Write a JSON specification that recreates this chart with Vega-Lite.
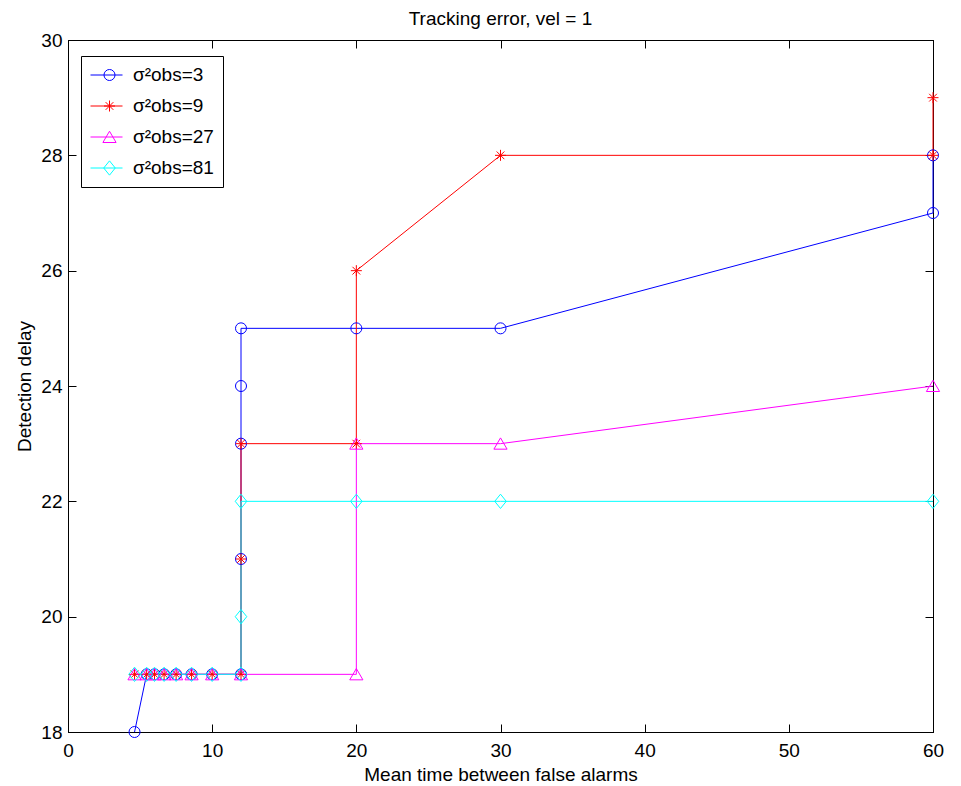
{
  "$schema": "https://vega.github.io/schema/vega-lite/v6.json",
  "width": 865,
  "height": 692,
  "autosize": {"type": "none"},
  "padding": {"left": 68, "top": 40, "right": 28, "bottom": 54},
  "title": {"text": "Tracking error, vel = 1", "fontSize": 19, "fontWeight": "normal", "font": "Liberation Sans", "color": "black", "baseline": "alphabetic", "offset": 14, "dy": 27, "frame": "group", "anchor": "middle"},
  "config": {
    "view": {"stroke": "black", "strokeWidth": 1},
    "font": "Liberation Sans",
    "axis": {"grid": false, "domainColor": "black", "tickColor": "black", "labelColor": "black", "titleColor": "black", "labelFont": "Liberation Sans", "titleFont": "Liberation Sans", "labelFontSize": 19, "titleFontSize": 19, "titleFontWeight": "normal", "tickSize": -8, "labelFlush": false, "labelOverlap": false}
  },
  "data": {"values": [
    {"s": "σ²obs=3", "i": 1, "x": 4.615, "y": 18},
    {"s": "σ²obs=3", "i": 2, "x": 5.455, "y": 19},
    {"s": "σ²obs=3", "i": 3, "x": 6, "y": 19},
    {"s": "σ²obs=3", "i": 4, "x": 6.667, "y": 19},
    {"s": "σ²obs=3", "i": 5, "x": 7.5, "y": 19},
    {"s": "σ²obs=3", "i": 6, "x": 8.571, "y": 19},
    {"s": "σ²obs=3", "i": 7, "x": 10, "y": 19},
    {"s": "σ²obs=3", "i": 8, "x": 12, "y": 19},
    {"s": "σ²obs=3", "i": 9, "x": 12, "y": 21},
    {"s": "σ²obs=3", "i": 10, "x": 12, "y": 23},
    {"s": "σ²obs=3", "i": 11, "x": 12, "y": 24},
    {"s": "σ²obs=3", "i": 12, "x": 12, "y": 25},
    {"s": "σ²obs=3", "i": 13, "x": 20, "y": 25},
    {"s": "σ²obs=3", "i": 14, "x": 30, "y": 25},
    {"s": "σ²obs=3", "i": 15, "x": 60, "y": 27},
    {"s": "σ²obs=3", "i": 16, "x": 60, "y": 28},
    {"s": "σ²obs=9", "i": 1, "x": 4.615, "y": 19},
    {"s": "σ²obs=9", "i": 2, "x": 5.455, "y": 19},
    {"s": "σ²obs=9", "i": 3, "x": 6, "y": 19},
    {"s": "σ²obs=9", "i": 4, "x": 6.667, "y": 19},
    {"s": "σ²obs=9", "i": 5, "x": 7.5, "y": 19},
    {"s": "σ²obs=9", "i": 6, "x": 8.571, "y": 19},
    {"s": "σ²obs=9", "i": 7, "x": 10, "y": 19},
    {"s": "σ²obs=9", "i": 8, "x": 12, "y": 19},
    {"s": "σ²obs=9", "i": 9, "x": 12, "y": 21},
    {"s": "σ²obs=9", "i": 10, "x": 12, "y": 23},
    {"s": "σ²obs=9", "i": 11, "x": 20, "y": 23},
    {"s": "σ²obs=9", "i": 12, "x": 20, "y": 26},
    {"s": "σ²obs=9", "i": 13, "x": 30, "y": 28},
    {"s": "σ²obs=9", "i": 14, "x": 60, "y": 28},
    {"s": "σ²obs=9", "i": 15, "x": 60, "y": 29},
    {"s": "σ²obs=27", "i": 1, "x": 4.615, "y": 19},
    {"s": "σ²obs=27", "i": 2, "x": 5.455, "y": 19},
    {"s": "σ²obs=27", "i": 3, "x": 6, "y": 19},
    {"s": "σ²obs=27", "i": 4, "x": 6.667, "y": 19},
    {"s": "σ²obs=27", "i": 5, "x": 7.5, "y": 19},
    {"s": "σ²obs=27", "i": 6, "x": 8.571, "y": 19},
    {"s": "σ²obs=27", "i": 7, "x": 10, "y": 19},
    {"s": "σ²obs=27", "i": 8, "x": 12, "y": 19},
    {"s": "σ²obs=27", "i": 9, "x": 20, "y": 19},
    {"s": "σ²obs=27", "i": 10, "x": 20, "y": 23},
    {"s": "σ²obs=27", "i": 11, "x": 30, "y": 23},
    {"s": "σ²obs=27", "i": 12, "x": 60, "y": 24},
    {"s": "σ²obs=81", "i": 1, "x": 4.615, "y": 19},
    {"s": "σ²obs=81", "i": 2, "x": 5.455, "y": 19},
    {"s": "σ²obs=81", "i": 3, "x": 6, "y": 19},
    {"s": "σ²obs=81", "i": 4, "x": 6.667, "y": 19},
    {"s": "σ²obs=81", "i": 5, "x": 7.5, "y": 19},
    {"s": "σ²obs=81", "i": 6, "x": 8.571, "y": 19},
    {"s": "σ²obs=81", "i": 7, "x": 10, "y": 19},
    {"s": "σ²obs=81", "i": 8, "x": 12, "y": 19},
    {"s": "σ²obs=81", "i": 9, "x": 12, "y": 20},
    {"s": "σ²obs=81", "i": 10, "x": 12, "y": 22},
    {"s": "σ²obs=81", "i": 11, "x": 20, "y": 22},
    {"s": "σ²obs=81", "i": 12, "x": 30, "y": 22},
    {"s": "σ²obs=81", "i": 13, "x": 60, "y": 22}
  ]},
  "layer": [
    {
      "mark": {"type": "line", "strokeWidth": 1},
      "encoding": {
        "x": {"field": "x", "type": "quantitative", "scale": {"domain": [0, 60], "nice": false, "zero": false},
              "axis": {"orient": "bottom", "values": [0, 10, 20, 30, 40, 50, 60], "labelPadding": 17, "title": "Mean time between false alarms", "titleX": 432.5, "titleY": 48, "titleBaseline": "alphabetic", "titleAlign": "center"}},
        "y": {"field": "y", "type": "quantitative", "scale": {"domain": [18, 30], "nice": false, "zero": false},
              "axis": {"orient": "left", "values": [18, 20, 22, 24, 26, 28, 30], "labelPadding": 14, "title": "Detection delay", "titleX": -38, "titleY": 346, "titleBaseline": "alphabetic", "titleAngle": -90, "titleAlign": "center"}},
        "color": {"field": "s", "type": "nominal",
                  "scale": {"domain": ["σ²obs=3", "σ²obs=9", "σ²obs=27", "σ²obs=81"], "range": ["#0000ff", "#ff0000", "#ff00ff", "#00ffff"]},
                  "legend": {"orient": "none", "legendX": 13, "legendY": 16, "title": null, "symbolType": "stroke", "symbolSize": 1024, "symbolStrokeWidth": 1, "padding": 9, "clipHeight": 20, "rowPadding": 11, "labelOffset": 10, "labelFontSize": 19, "labelFont": "Liberation Sans", "labelColor": "black", "strokeColor": "black", "fillColor": "white"}},
        "order": {"field": "i", "type": "quantitative"}
      }
    },
    {
      "mark": {"type": "point", "filled": false, "strokeWidth": 1, "size": 121, "opacity": 1},
      "encoding": {
        "x": {"field": "x", "type": "quantitative", "scale": {"domain": [0, 60], "nice": false, "zero": false},
              "axis": {"orient": "top", "values": [0, 10, 20, 30, 40, 50, 60], "labels": false, "title": null}},
        "y": {"field": "y", "type": "quantitative", "scale": {"domain": [18, 30], "nice": false, "zero": false},
              "axis": {"orient": "right", "values": [18, 20, 22, 24, 26, 28, 30], "labels": false, "title": null}},
        "color": {"field": "s", "type": "nominal",
                  "scale": {"domain": ["σ²obs=3", "σ²obs=9", "σ²obs=27", "σ²obs=81"], "range": ["#0000ff", "#ff0000", "#ff00ff", "#00ffff"]},
                  "legend": {"orient": "none", "legendX": 13, "legendY": 16, "title": null, "symbolSize": 121, "symbolStrokeWidth": 1, "symbolOffset": 10, "padding": 9, "clipHeight": 20, "rowPadding": 11, "labelOffset": 10, "labelFontSize": 19, "labelExpr": "''", "symbolFillColor": "transparent"}},
        "shape": {"field": "s", "type": "nominal",
                  "scale": {"domain": ["σ²obs=3", "σ²obs=9", "σ²obs=27", "σ²obs=81"], "range": ["circle", "M-1,0L1,0M0,-1L0,1M-0.7,-0.7L0.7,0.7M-0.7,0.7L0.7,-0.7", "M0,-1.05L1.2,1L-1.2,1Z", "M0,-1.3L1.05,0L0,1.3L-1.05,0Z"]},
                  "legend": {"orient": "none", "legendX": 13, "legendY": 16, "title": null, "symbolSize": 121, "symbolStrokeWidth": 1, "symbolOffset": 10, "padding": 9, "clipHeight": 20, "rowPadding": 11, "labelOffset": 10, "labelFontSize": 19, "labelExpr": "''", "symbolFillColor": "transparent"}}
      }
    }
  ],
  "resolve": {"legend": {"color": "independent", "shape": "independent"}, "axis": {"x": "independent", "y": "independent"}}
}
